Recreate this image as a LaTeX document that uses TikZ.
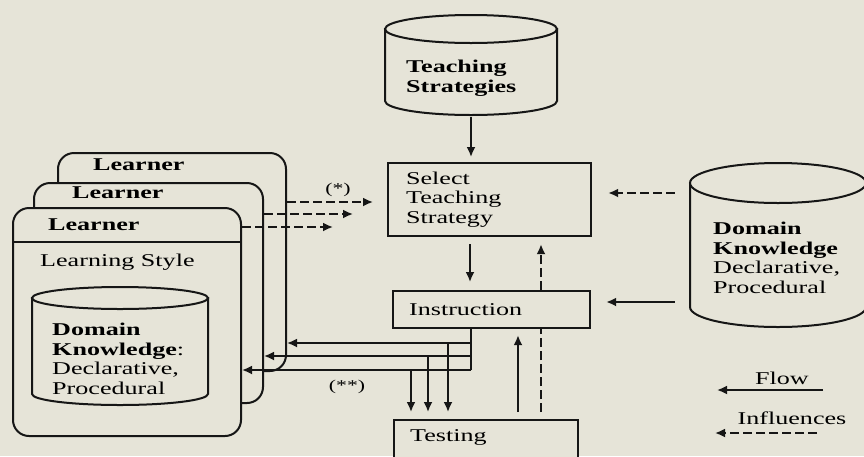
\documentclass[tikz,border=0pt]{standalone}
\usepackage{fontspec}
\setmainfont{Liberation Serif}[FakeStretch=1.45]
\usetikzlibrary{arrows.meta}
\definecolor{paper}{HTML}{E6E4D8}
\definecolor{ink}{HTML}{161616}

% cylinder: centre x, top y, bottom y, x radius, y radius (y grows downwards)
\newcommand\drawcyl[5]{%
  \path[cylbody] (#1-#4,#2+#5) -- (#1-#4,#3-#5)
    arc[start angle=180,end angle=0,x radius=#4,y radius=#5]
    -- (#1+#4,#2+#5) -- cycle;
  \path[cylbody] (#1,#2+#5) ellipse[x radius=#4,y radius=#5];
}

\tikzset{
  cylbody/.style={draw=ink, line width=2pt, fill=paper},
  box/.style={draw=ink, line width=2.2pt, fill=paper, rectangle, inner sep=0pt,
              anchor=north west},
  card/.style={draw=ink, line width=2pt, fill=paper, rectangle, rounded corners=16pt,
               inner sep=0pt, anchor=north west},
  holder/.style={rectangle, inner sep=0pt},
  txt/.style={inner sep=0pt, anchor=west, align=left},
  flow/.style={draw=ink, line width=1.9pt, -{Latex[length=10pt,width=9pt]}},
  infl/.style={draw=ink, line width=1.9pt, dash pattern=on 9pt off 4pt,
               -{Latex[length=10pt,width=9pt]}},
  inflline/.style={draw=ink, line width=1.9pt, dash pattern=on 9pt off 4pt},
  link/.style={draw=ink, line width=1.9pt},
}

\begin{document}
\begin{tikzpicture}[x=1pt,y=-1pt,font=\fontsize{18}{19.5}\selectfont]
\fill[paper] (0,0) rectangle (864,456);
\useasboundingbox (0,0) rectangle (864,456);

% ---------- teaching strategies store ----------
\drawcyl{471}{15}{115}{86}{14}
\node[holder, minimum width=172, minimum height=100] (ts) at (471,65) {};
\node[txt] (tstext) at (406,78) {\textbf{Teaching}\\\textbf{Strategies}};

% ---------- process boxes ----------
\node[box, minimum width=185, minimum height=73, text width=167, align=left,
      inner xsep=18pt] (sel) at (387,162) {Select\\Teaching\\Strategy};
\node[box, minimum width=181, minimum height=37, text width=165, align=left,
      inner xsep=16pt] (instr) at (392,290) {Instruction};
\node[box, minimum width=184, minimum height=60] (test) at (393,419) {};
\node[txt] (testtext) at (410,437) {Testing};

% ---------- domain knowledge store ----------
\drawcyl{778}{163}{327}{88}{20}
\node[holder, minimum width=176, minimum height=164] (dk) at (778,245) {};
\node[txt] (dktext) at (713,258)
  {\textbf{Domain}\\\textbf{Knowledge}\\Declarative,\\Procedural};

% ---------- stacked learner models ----------
\node[card, minimum width=228, minimum height=218] (lrnC) at (57,152) {};
\node[txt] (lrnCtext) at (93,165) {\textbf{Learner}};
\node[card, minimum width=229, minimum height=220] (lrnB) at (33,182) {};
\node[txt] (lrnBtext) at (72,193) {\textbf{Learner}};
\node[card, minimum width=228, minimum height=228] (lrnA) at (12,207) {};
\node[txt] (lrnAtext) at (48,225) {\textbf{Learner}};
\draw[link] (lrnA.west |- 0,242) -- (lrnA.east |- 0,242);
\node[txt] (style) at (40,262) {Learning Style};

\drawcyl{120}{287}{405}{88}{11}
\node[holder, minimum width=176, minimum height=118] (ldk) at (120,346) {};
\node[txt] (ldktext) at (52,359)
  {\textbf{Domain}\\\textbf{Knowledge}:\\Declarative,\\Procedural};

% ---------- learners influence the strategy choice ----------
\coordinate (inC) at (373,202);
\coordinate (inB) at (353,214);
\coordinate (inA) at (333,227);
\draw[infl] (lrnC.east |- inC) -- (inC);
\draw[infl] (lrnB.east |- inB) -- (inB);
\draw[infl] (lrnA.east |- inA) -- (inA);
\node[inner sep=0pt, font=\fontsize{15}{16}\selectfont] (star1) at (338,190) {(*)};

% ---------- main flow ----------
\draw[flow, shorten <=2pt, shorten >=5pt] (ts.south) -- (ts.south |- sel.north);
\coordinate (mid) at (470,0);
\draw[flow, shorten <=7pt, shorten >=8pt] (sel.south -| mid) -- (instr.north -| mid);

% instruction feeds the learners and the tests
\coordinate (trunk) at (471,0);
\coordinate (jC) at (448,343);
\coordinate (jB) at (428,356);
\coordinate (jA) at (411,370);
\draw[link] (instr.south -| trunk) -- (trunk |- jA);
\draw[flow] (trunk |- jC) -- (lrnC.east |- jC);
\draw[flow] (trunk |- jB) -- (lrnB.east |- jB);
\draw[flow] (trunk |- jA) -- (lrnA.east |- jA);
\draw[flow, shorten >=7pt] (jC) -- (jC |- test.north);
\draw[flow, shorten >=7pt] (jB) -- (jB |- test.north);
\draw[flow, shorten >=7pt] (jA) -- (jA |- test.north);
\node[inner sep=0pt, font=\fontsize{15}{16}\selectfont] (star2) at (347,387) {(**)};

% test results flow back
\coordinate (upF) at (518,0);
\coordinate (upI) at (541,0);
\draw[flow, shorten <=7pt, shorten >=6pt] (test.north -| upF) -- (instr.south -| upF);
\draw[inflline, shorten <=7pt] (test.north -| upI) -- (instr.south -| upI);
\draw[infl, shorten >=7pt] (instr.north -| upI) -- (sel.south -| upI);

% domain knowledge into the process
\draw[infl, shorten <=15pt, shorten >=16pt] (dk.west |- 0,193) -- (sel.east |- 0,193);
\draw[flow, shorten <=15pt, shorten >=15pt] (dk.west |- 0,302) -- (instr.east |- 0,302);

% ---------- legend ----------
\coordinate (flowA) at (823,390);
\coordinate (flowB) at (717,390);
\coordinate (inflA) at (817,433);
\coordinate (inflB) at (715,433);
\node[inner sep=0pt] (flowlbl) at (782,378) {Flow};
\draw[flow] (flowA) -- (flowB);
\node[inner sep=0pt] (infllbl) at (792,418) {Influences};
\draw[infl] (inflA) -- (inflB);
\end{tikzpicture}
\end{document}
